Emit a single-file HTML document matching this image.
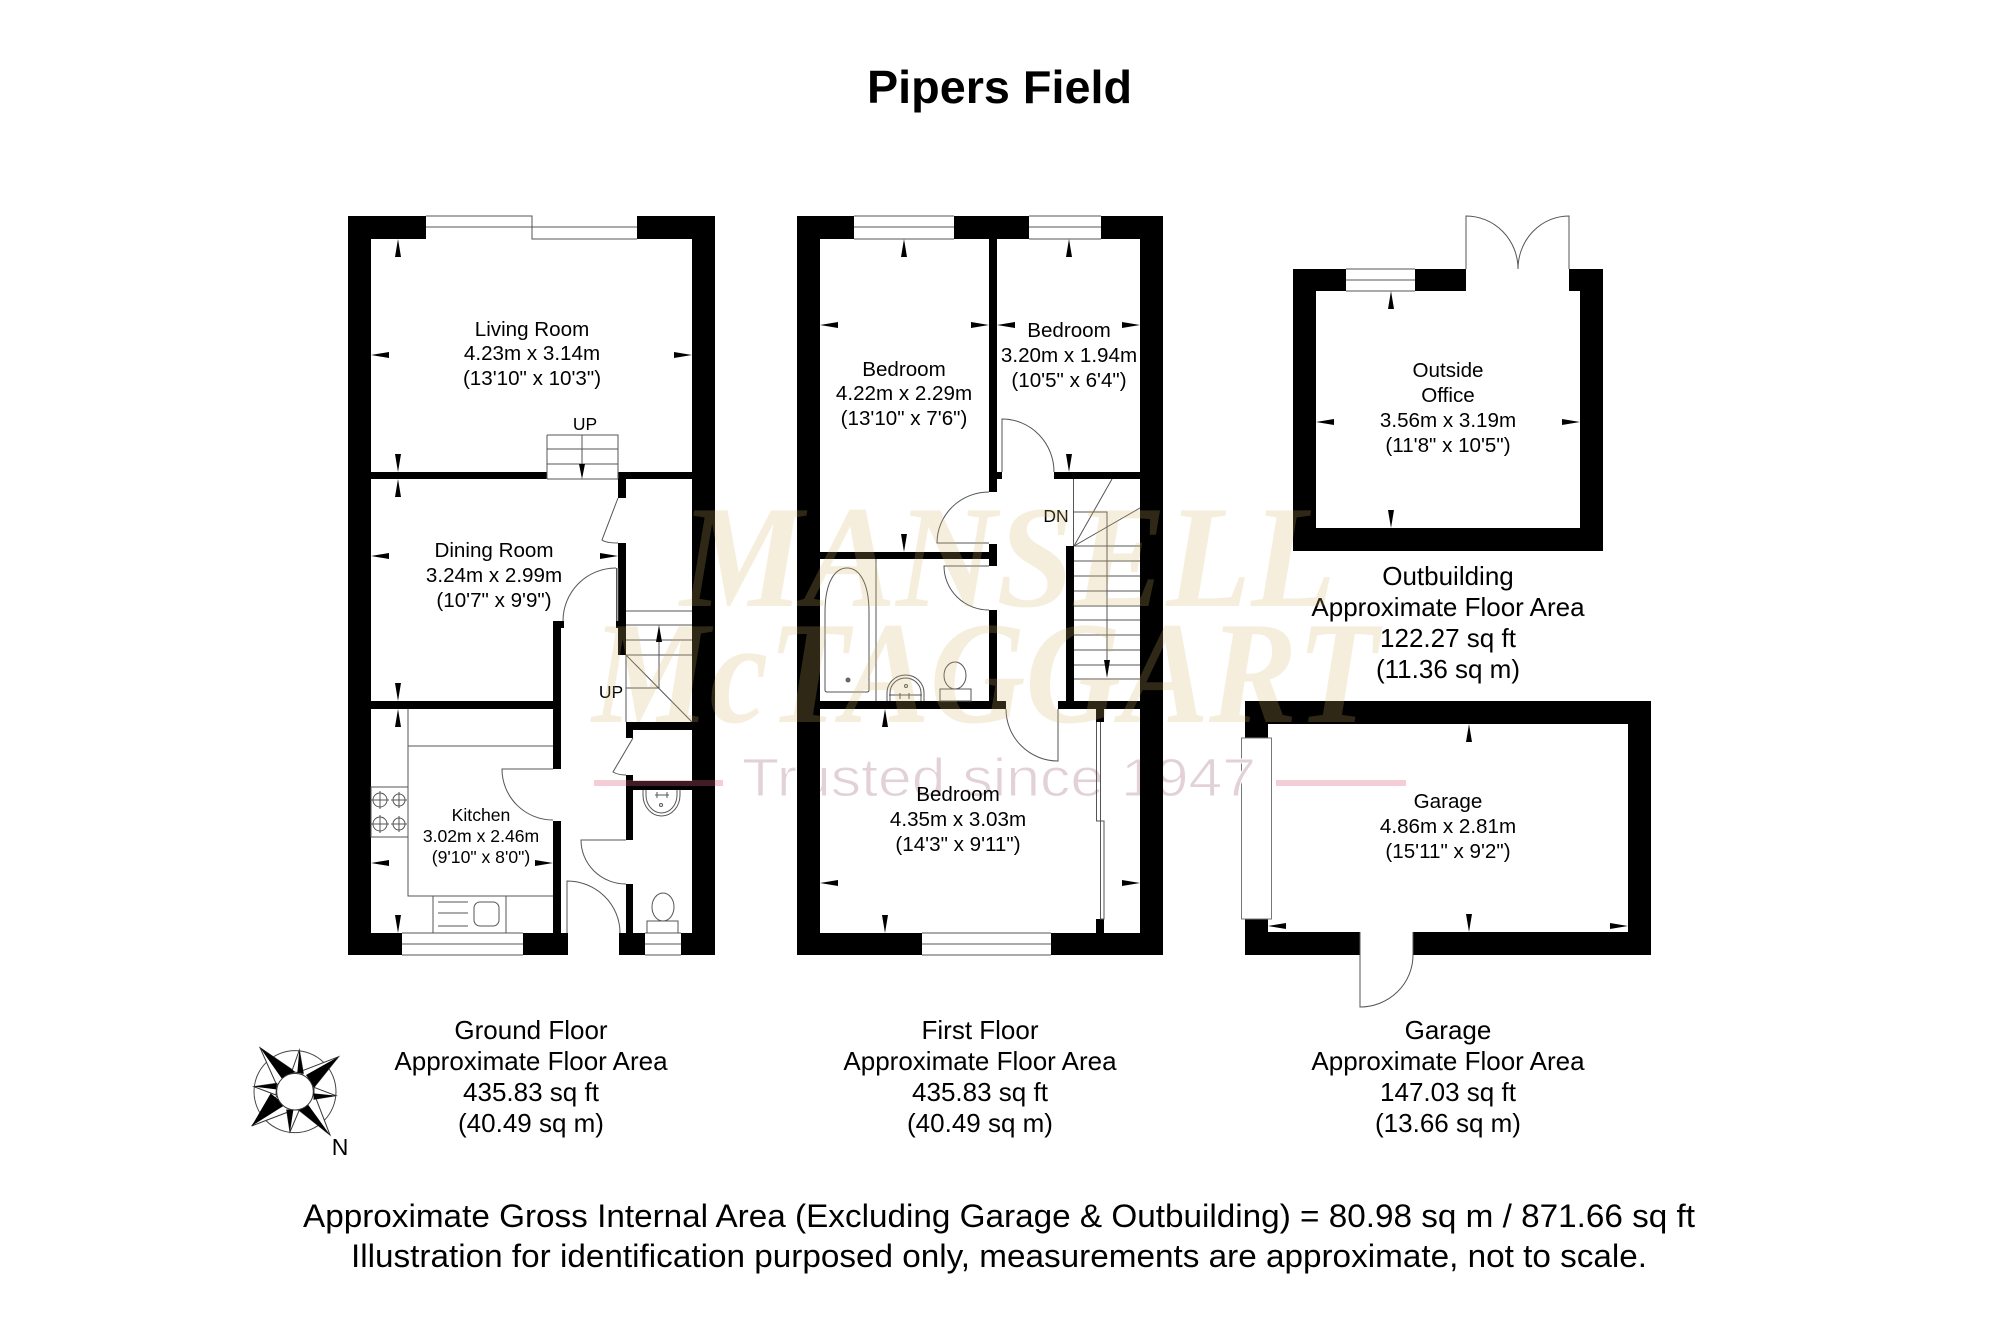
<!DOCTYPE html>
<html><head><meta charset="utf-8"><title>Pipers Field</title>
<style>
html,body{margin:0;padding:0;background:#fff}
svg{display:block}
text{font-family:"Liberation Sans",sans-serif;fill:#000}
.r{font-size:20.6px;text-anchor:middle}
.k{font-size:17.6px;text-anchor:middle}
.c{font-size:26px;text-anchor:middle}
.f{font-size:32px}
.l{fill:none;stroke:#555;stroke-width:1}
.w{fill:#fff;stroke:#777;stroke-width:1}
</style></head><body>
<svg width="2000" height="1334" viewBox="0 0 2000 1334" xmlns="http://www.w3.org/2000/svg">
<rect width="2000" height="1334" fill="#fff"/>
<!-- garage walls and window sit beneath the strapline -->
<g fill="#000">
<rect x="1245" y="701" width="406" height="23"/><rect x="1628" y="701" width="23" height="254"/><rect x="1245" y="701" width="23" height="254"/>
<rect x="1245" y="932" width="115" height="23"/><rect x="1413" y="932" width="238" height="23"/>
</g>
<rect class="w" x="1241.500" y="738" width="30" height="181"/>
<text x="742" y="796" textLength="514" lengthAdjust="spacingAndGlyphs" style="font-size:54px;fill:#e2d2d8;stroke:#fff;stroke-width:1px">Trusted since 1947</text>
<text x="867" y="103" font-weight="bold" style="font-size:46px" textLength="265" lengthAdjust="spacingAndGlyphs">Pipers Field</text>

<!-- walls -->
<g fill="#000">
<!-- ground -->
<rect x="348" y="216" width="23" height="739"/><rect x="692" y="216" width="23" height="739"/>
<rect x="348" y="216" width="78" height="23"/><rect x="637" y="216" width="78" height="23"/>
<rect x="348" y="472" width="199" height="7"/><rect x="618" y="472" width="97" height="7"/>
<rect x="348" y="933" width="54" height="22"/><rect x="523" y="933" width="45" height="22"/><rect x="619" y="933" width="26" height="22"/><rect x="681" y="933" width="34" height="22"/>
<rect x="618" y="472" width="8" height="26"/><rect x="618" y="543" width="8" height="112"/><rect x="616" y="621" width="10" height="7"/>
<rect x="553" y="621" width="11" height="7"/><rect x="553" y="621" width="8" height="148"/><rect x="553" y="821" width="8" height="112"/><rect x="348" y="701" width="213" height="8"/>
<rect x="626" y="722" width="89" height="8"/><rect x="626" y="722" width="7" height="16"/><rect x="626" y="775" width="7" height="65"/><rect x="626" y="781" width="89" height="9"/><rect x="626" y="884" width="7" height="49"/>
<!-- first -->
<rect x="797" y="216" width="23" height="739"/><rect x="1140" y="216" width="23" height="739"/>
<rect x="797" y="216" width="57" height="23"/><rect x="954" y="216" width="75" height="23"/><rect x="1101" y="216" width="62" height="23"/>
<rect x="989" y="239" width="8" height="253"/><rect x="997" y="472" width="5" height="7"/><rect x="1054" y="472" width="109" height="7"/>
<rect x="989" y="544" width="8" height="22"/><rect x="797" y="552" width="192" height="7"/><rect x="989" y="610" width="8" height="91"/>
<rect x="797" y="701" width="209" height="8"/><rect x="1058" y="701" width="105" height="8"/><rect x="1066" y="546" width="8" height="155"/>
<rect x="1096" y="709" width="8" height="13"/><rect x="1096" y="919" width="8" height="14"/>
<rect x="797" y="933" width="125" height="22"/><rect x="1051" y="933" width="112" height="22"/>
<!-- outbuilding -->
<rect x="1293" y="269" width="23" height="282"/><rect x="1580" y="269" width="23" height="282"/><rect x="1293" y="528" width="310" height="23"/>
<rect x="1293" y="269" width="53" height="22"/><rect x="1415" y="269" width="51" height="22"/><rect x="1569" y="269" width="34" height="22"/>
</g>

<!-- windows -->
<path class="l" d="M426 216H532V227H426M532 227H637M532 216V239H637"/>
<path class="l" d="M402 933H523M402 944H523M402 955H523"/>
<path class="l" d="M645 933H681M645 944H681M645 955H681"/>
<path class="l" d="M854 216H954M854 227H954M854 239H954"/>
<path class="l" d="M1029 216H1101M1029 227H1101M1029 239H1101"/>
<path class="l" d="M922 933H1051M922 944H1051M922 955H1051"/>
<path class="l" d="M1346 269H1415M1346 280H1415M1346 291H1415"/>

<!-- doors -->
<g class="l">
<path d="M618 498L602 540Q606 543 618 543"/>
<path d="M616.500 568V621M618 568V621"/>
<path d="M616 568A53 53 0 0 0 563 621"/>
<path d="M553 769H502A51 51 0 0 0 553 820"/>
<path d="M633 738L613 772Q618 775 626 775"/>
<path d="M626 840H581A45 44 0 0 0 626 884"/>
<path d="M567 933V881A53 52 0 0 1 620 933"/>
<path d="M1002 472V419A52 53 0 0 1 1054 472"/>
<path d="M989 492A52 51 0 0 0 937 543H989"/>
<path d="M989 566H944A45 44 0 0 0 989 610"/>
<path d="M1006 709A52 52 0 0 0 1058 761V709"/>
<path d="M1096.500 722V821H1100.500V722M1100.500 821H1104V919H1100.500V821"/>
<path d="M1466 269V216A52 53 0 0 1 1518 269M1569 269V216A51 53 0 0 0 1518 269"/>
<path d="M1360 932V1007A53 52 0 0 0 1413 955V932"/>
</g>

<!-- stairs -->
<g class="l">
<path d="M547 435H618V479M547 435V479M547 449H618M547 464H618M582 435V464M547 479H618"/>
<path d="M626 611H692M626 625H692M626 640H692M626 655H692M626 655V722M626 655L692 722M626 688H659V640"/>
<path d="M1073.500 479V546M1074 546L1112 479M1074 546L1140 508M1074 512H1107V662"/>
<path d="M1074 546H1140M1074 561H1140M1074 576H1140M1074 591H1140M1074 606H1140M1074 620H1140M1074 635H1140M1074 650H1140M1074 665H1140M1074 679H1140"/>
</g>

<!-- fixtures -->
<g class="l">
<path d="M408 709V896H553M408 746H553"/>
<rect x="371" y="787" width="37" height="50"/>
<circle cx="380" cy="800" r="7"/><circle cx="399" cy="800" r="6"/><circle cx="380" cy="824" r="7"/><circle cx="399" cy="824" r="6"/>
<path d="M371 800H389M380 791V809M391 800H407M399 792V808M371 824H389M380 815V833M391 824H407M399 816V832"/>
<rect x="433" y="896" width="73" height="37"/>
<path d="M438 902H468M438 913H468M438 926H468"/>
<rect x="474" y="902" width="25" height="24" rx="6"/>
<path d="M643 790V795A18.500 21 0 0 0 680 795V790M646 790V795A15.500 18 0 0 0 677 795V790"/>
<path d="M655 795H669M657 792V798M667 792V798"/>
<circle cx="661" cy="805" r="1.500"/>
<rect x="647" y="921" width="31" height="12"/>
<ellipse cx="663" cy="907" rx="11" ry="14"/>
<path d="M876 559V701"/>
<path d="M825 690V612C825 582 835 568 847 568C859 568 869 582 869 612V690Q869 692 867 692H827Q825 692 825 690Z"/>
<path d="M887 701V693A18.500 18 0 0 1 924 693V701M890 701V693A15.500 15 0 0 1 921 693V701"/>
<path d="M889 695H922M900 693V699M909 693V699"/>
<circle cx="906" cy="686" r="1.500"/>
<rect x="940" y="689" width="31" height="12"/>
<ellipse cx="955" cy="675.500" rx="11" ry="13.500"/>
</g>
<circle cx="848" cy="680" r="2.500" fill="#666"/>

<!-- dimension arrows -->
<path fill="#000" d="
M398 239l3 18h-6zM398 472l3-18h-6zM371 355l18-3v6zM692 355l-18-3v6z
M398 479l3 18h-6zM398 701l3-18h-6zM371 556l18-3v6zM618 556l-18-3v6z
M398 709l3 18h-6zM398 933l3-18h-6zM371 863l18-3v6zM553 863l-18-3v6z
M904 239l3 18h-6zM904 552l3-18h-6zM820 325l18-3v6zM989 325l-18-3v6z
M1069 239l3 18h-6zM1069 472l3-18h-6zM997 325l18-3v6zM1140 325l-18-3v6z
M885 709l3 18h-6zM885 933l3-18h-6zM820 883l18-3v6zM1140 883l-18-3v6z
M1391 291l3 18h-6zM1391 528l3-18h-6zM1316 422l18-3v6zM1580 422l-18-3v6z
M1469 724l3 18h-6zM1469 932l3-18h-6zM1268 926l18-3v6zM1628 926l-18-3v6z
M582 479l3-15h-6zM659 625l3 17h-6zM1107 678l3-18h-6z"/>

<!-- labels -->
<text class="r"><tspan x="532" y="336">Living Room</tspan><tspan x="532" y="360">4.23m x 3.14m</tspan><tspan x="532" y="385">(13'10" x 10'3")</tspan></text>
<text class="r"><tspan x="494" y="557">Dining Room</tspan><tspan x="494" y="582">3.24m x 2.99m</tspan><tspan x="494" y="607">(10'7" x 9'9")</tspan></text>
<text class="k"><tspan x="481" y="821">Kitchen</tspan><tspan x="481" y="842">3.02m x 2.46m</tspan><tspan x="481" y="863">(9'10" x 8'0")</tspan></text>
<text class="r"><tspan x="904" y="376">Bedroom</tspan><tspan x="904" y="400">4.22m x 2.29m</tspan><tspan x="904" y="425">(13'10" x 7'6")</tspan></text>
<text class="r"><tspan x="1069" y="337">Bedroom</tspan><tspan x="1069" y="362">3.20m x 1.94m</tspan><tspan x="1069" y="387">(10'5" x 6'4")</tspan></text>
<text class="r"><tspan x="958" y="801">Bedroom</tspan><tspan x="958" y="826">4.35m x 3.03m</tspan><tspan x="958" y="851">(14'3" x 9'11")</tspan></text>
<text class="r"><tspan x="1448" y="377">Outside</tspan><tspan x="1448" y="402">Office</tspan><tspan x="1448" y="427">3.56m x 3.19m</tspan><tspan x="1448" y="452">(11'8" x 10'5")</tspan></text>
<text class="r"><tspan x="1448" y="808">Garage</tspan><tspan x="1448" y="833">4.86m x 2.81m</tspan><tspan x="1448" y="858">(15'11" x 9'2")</tspan></text>
<text x="585" y="430" text-anchor="middle" style="font-size:17.500px">UP</text>
<text x="611" y="698" text-anchor="middle" style="font-size:17.500px">UP</text>
<text x="1056" y="522" text-anchor="middle" style="font-size:17.500px">DN</text>

<text class="c"><tspan x="531" y="1039">Ground Floor</tspan><tspan x="531" y="1070">Approximate Floor Area</tspan><tspan x="531" y="1101">435.83 sq ft</tspan><tspan x="531" y="1132">(40.49 sq m)</tspan></text>
<text class="c"><tspan x="980" y="1039">First Floor</tspan><tspan x="980" y="1070">Approximate Floor Area</tspan><tspan x="980" y="1101">435.83 sq ft</tspan><tspan x="980" y="1132">(40.49 sq m)</tspan></text>
<text class="c"><tspan x="1448" y="1039">Garage</tspan><tspan x="1448" y="1070">Approximate Floor Area</tspan><tspan x="1448" y="1101">147.03 sq ft</tspan><tspan x="1448" y="1132">(13.66 sq m)</tspan></text>
<text class="c"><tspan x="1448" y="585">Outbuilding</tspan><tspan x="1448" y="616">Approximate Floor Area</tspan><tspan x="1448" y="647">122.27 sq ft</tspan><tspan x="1448" y="678">(11.36 sq m)</tspan></text>

<text class="f" x="303" y="1227" textLength="1392" lengthAdjust="spacingAndGlyphs">Approximate Gross Internal Area (Excluding Garage &amp; Outbuilding) = 80.98 sq m / 871.66 sq ft</text>
<text class="f" x="351" y="1267" textLength="1296" lengthAdjust="spacingAndGlyphs">Illustration for identification purposed only, measurements are approximate, not to scale.</text>

<!-- compass -->
<g transform="translate(240 1030) scale(.3333)">
<circle cx="165" cy="185" r="123" fill="#fff" stroke="#444" stroke-width="3"/>
<g fill="#fff" stroke="#333" stroke-width="3">
<path d="M60 53L110 165L165 125Z"/><path d="M296 80L180 125L222 172Z"/><path d="M270 315L222 190L170 235Z"/><path d="M35 288L160 240L118 190Z"/>
<path d="M178 60L155 125L190 130Z"/><path d="M288 197L222 172L222 208Z"/><path d="M150 306L178 240L140 240Z"/><path d="M42 170L108 195L110 160Z"/>
</g>
<g fill="#000">
<path d="M60 53L165 125L125 145Z"/><path d="M296 80L222 172L198 135Z"/><path d="M270 315L170 235L205 225Z"/><path d="M35 288L92 190L135 225Z"/>
<path d="M178 60L172 128L190 130Z"/><path d="M288 197L220 190L222 208Z"/><path d="M150 306L140 240L160 240Z"/><path d="M42 170L110 160L108 178Z"/>
</g>
<circle cx="165" cy="185" r="55" fill="#fff" stroke="#333" stroke-width="3"/>
</g>
<text x="340" y="1155" text-anchor="middle" style="font-size:23px">N</text>

<!-- watermark -->
<g>
<text x="680" y="606" textLength="656" lengthAdjust="spacingAndGlyphs" style="font-family:'Liberation Serif',serif;font-style:italic;font-weight:bold;font-size:146px;fill:rgb(214,178,103);fill-opacity:.224">MANSELL</text>
<text x="592" y="722" textLength="786" lengthAdjust="spacingAndGlyphs" style="font-family:'Liberation Serif',serif;font-style:italic;font-weight:bold;font-size:146px;fill:rgb(214,178,103);fill-opacity:.224">McTAGGART</text>
<rect x="594" y="780" width="129" height="6" fill="rgb(220,90,120)" fill-opacity=".3"/>
<rect x="1276" y="780" width="130" height="6" fill="rgb(220,90,120)" fill-opacity=".3"/>
</g>
</svg>
</body></html>
